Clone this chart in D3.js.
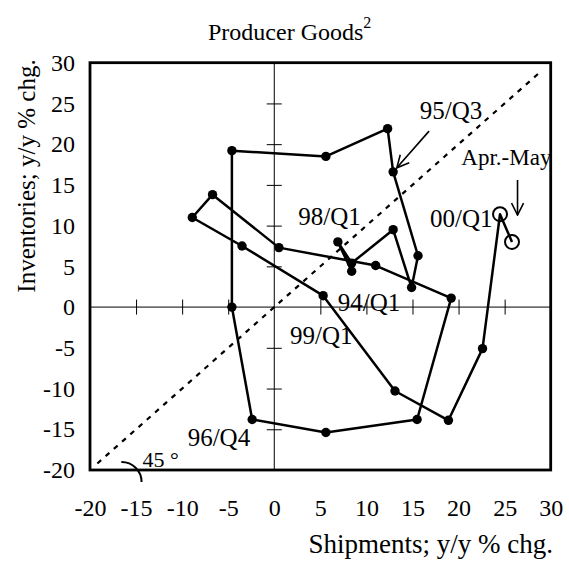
<!DOCTYPE html>
<html>
<head>
  <meta charset="utf-8">
  <title>Producer Goods</title>
  <script src="https://d3js.org/d3.v7.min.js"></script>
  <style>
    html, body {
      margin: 0;
      background: #fff;
    }
    * {
      font-family: 'Liberation Serif', 'Times New Roman', serif;
    }
    .tick text {
      font-size: 24px;
      fill: #000;
    }
  </style>
</head>
<body>
  <svg id="chart" width="569" height="566"></svg>
  <script>
  // quarterly points, 94/Q1 .. 00/Q1, then Apr.-May
  const periods = ["94/Q1","94/Q2","94/Q3","94/Q4","95/Q1","95/Q2","95/Q3","95/Q4",
    "96/Q1","96/Q2","96/Q3","96/Q4","97/Q1","97/Q2","97/Q3","97/Q4",
    "98/Q1","98/Q2","98/Q3","98/Q4","99/Q1","99/Q2","99/Q3","99/Q4","00/Q1","Apr.-May"];
  const shipments = [8.4, 6.9, 8.4, 12.9, 14.9, 15.6, 12.9, 12.3,
    5.6, -4.6, -4.6, -2.4, 5.6, 15.5, 19.2, 11.0,
    0.5, -6.7, -8.9, -3.5, 5.3, 13.1, 18.9, 22.6, 24.5, 25.8];
  const inventories = [4.4, 8.0, 5.4, 9.5, 2.4, 6.3, 16.6, 21.9,
    18.5, 19.2, 0.0, -13.8, -15.4, -13.8, 1.1, 5.1,
    7.3, 13.8, 11.0, 7.5, 1.4, -10.3, -13.9, -5.1, 11.4, 8.0];
  const openPoints = ["00/Q1", "Apr.-May"];

  const xTicks = [-20, -15, -10, -5, 0, 5, 10, 15, 20, 25, 30];
  const yTicks = [-20, -15, -10, -5, 0, 5, 10, 15, 20, 25, 30];
  const innerTicks = [-15, -10, -5, 5, 10, 15, 20, 25];
  const diagonal = [-19.2, 29.1];

  // text labels [text, x, y, size] in data units
  const labels = [
    ["95/Q3", 15.8, 23.1, 25],
    ["98/Q1", 2.6, 10.1, 25],
    ["00/Q1", 16.9, 9.8, 25],
    ["94/Q1", 6.9, -0.5, 25],
    ["99/Q1", 1.7, -4.5, 25],
    ["96/Q4", -9.4, -17.1, 25],
    ["Apr.-May", 20.3, 17.4, 23]
  ];

  const data = periods.map((p, i) => ({ period: p, x: shipments[i], y: inventories[i] }));

  const svg = d3.select("#chart");
  const x = d3.scaleLinear().domain([-20, 30]).range([90, 550.7]);
  const y = d3.scaleLinear().domain([-20, 30]).range([470, 62.7]);

  // title
  const title = svg.append("text")
    .attr("x", 208)
    .attr("y", 40)
    .attr("font-size", 24)
    .text("Producer Goods");
  title.append("tspan")
    .attr("dy", -12)
    .attr("font-size", 16)
    .text("2");

  // zero axes with crossing ticks
  svg.append("line")
    .attr("x1", x(-20)).attr("x2", x(30))
    .attr("y1", y(0)).attr("y2", y(0))
    .attr("stroke", "#000").attr("stroke-width", 1);
  svg.append("line")
    .attr("x1", x(0)).attr("x2", x(0))
    .attr("y1", y(-20)).attr("y2", y(30))
    .attr("stroke", "#000").attr("stroke-width", 1);

  const xZero = svg.append("g")
    .attr("transform", `translate(0,${y(0)})`)
    .call(d3.axisBottom(x).tickValues(innerTicks).tickSize(7.5).tickFormat(""));
  xZero.select(".domain").remove();
  xZero.selectAll(".tick line").attr("y1", -7.5).attr("y2", 7.5).attr("stroke", "#000");

  const yZero = svg.append("g")
    .attr("transform", `translate(${x(0)},0)`)
    .call(d3.axisLeft(y).tickValues(innerTicks).tickSize(7.5).tickFormat(""));
  yZero.select(".domain").remove();
  yZero.selectAll(".tick line").attr("x1", -7.5).attr("x2", 7.5).attr("stroke", "#000");

  // outer tick labels (plain hyphen for minus)
  const xAxis = svg.append("g")
    .attr("transform", `translate(0,${y(-20)})`)
    .call(d3.axisBottom(x).tickValues(xTicks).tickSize(0).tickPadding(29).tickFormat(d => String(d)));
  xAxis.select(".domain").remove();

  const yAxis = svg.append("g")
    .attr("transform", `translate(${x(-20)},0)`)
    .call(d3.axisLeft(y).tickValues(yTicks).tickSize(0).tickPadding(15).tickFormat(d => String(d)));
  yAxis.select(".domain").remove();

  // axis titles
  svg.append("text")
    .attr("x", 553)
    .attr("y", 553)
    .attr("text-anchor", "end")
    .attr("font-size", 27)
    .text("Shipments; y/y % chg.");

  svg.append("text")
    .attr("transform", "translate(35,176) rotate(-90)")
    .attr("text-anchor", "middle")
    .attr("font-size", 25)
    .text("Inventories; y/y % chg.");

  // 45 degree dotted line
  svg.append("line")
    .attr("x1", x(diagonal[0])).attr("y1", y(diagonal[0]))
    .attr("x2", x(diagonal[1])).attr("y2", y(diagonal[1]))
    .attr("stroke", "#000")
    .attr("stroke-width", 2.2)
    .attr("stroke-dasharray", "5,6");

  // angle arc + label
  svg.append("path")
    .attr("d", `M${x(-16.6)},${y(-20) - 8} A20,20 0 0 1 ${x(-14.4)},${y(-20) + 12}`)
    .attr("fill", "none")
    .attr("stroke", "#000")
    .attr("stroke-width", 2);
  svg.append("text")
    .attr("x", x(-14.3))
    .attr("y", y(-20) - 3)
    .attr("font-size", 22)
    .text("45 °");

  // path
  const line = d3.line().x(d => x(d.x)).y(d => y(d.y));
  svg.append("path")
    .datum(data)
    .attr("d", line)
    .attr("fill", "none")
    .attr("stroke", "#000")
    .attr("stroke-width", 2.5)
    .attr("stroke-linejoin", "round");

  svg.selectAll("circle.dot")
    .data(data.filter(d => !openPoints.includes(d.period)))
    .join("circle")
    .attr("class", "dot")
    .attr("cx", d => x(d.x))
    .attr("cy", d => y(d.y))
    .attr("r", 4.7)
    .attr("fill", "#000");

  svg.selectAll("circle.open")
    .data(data.filter(d => openPoints.includes(d.period)))
    .join("circle")
    .attr("class", "open")
    .attr("cx", d => x(d.x))
    .attr("cy", d => y(d.y))
    .attr("r", 7)
    .attr("fill", "none")
    .attr("stroke", "#000")
    .attr("stroke-width", 2);

  // labels
  svg.selectAll("text.lab")
    .data(labels)
    .join("text")
    .attr("class", "lab")
    .attr("x", d => x(d[1]))
    .attr("y", d => y(d[2]))
    .attr("font-size", d => d[3])
    .text(d => d[0]);

  // arrows
  svg.append("defs").append("marker")
    .attr("id", "arrow")
    .attr("viewBox", "0 0 14 14")
    .attr("refX", 13).attr("refY", 7)
    .attr("markerWidth", 14).attr("markerHeight", 14)
    .attr("markerUnits", "userSpaceOnUse")
    .attr("orient", "auto")
    .append("path")
    .attr("d", "M1,1 L13,7 L1,13")
    .attr("fill", "none")
    .attr("stroke", "#000")
    .attr("stroke-width", 1.6);

  svg.append("line")
    .attr("x1", x(16.8)).attr("y1", y(21.6))
    .attr("x2", x(13.3)).attr("y2", y(17.1))
    .attr("stroke", "#000").attr("stroke-width", 1.6)
    .attr("marker-end", "url(#arrow)");

  svg.append("line")
    .attr("x1", x(26.4)).attr("y1", y(15.6))
    .attr("x2", x(26.4)).attr("y2", y(11.3))
    .attr("stroke", "#000").attr("stroke-width", 1.6)
    .attr("marker-end", "url(#arrow)");

  // frame
  svg.append("rect")
    .attr("x", x(-20)).attr("y", y(30))
    .attr("width", x(30) - x(-20))
    .attr("height", y(-20) - y(30))
    .attr("fill", "none")
    .attr("stroke", "#000")
    .attr("stroke-width", 2.8);
  </script>
</body>
</html>
